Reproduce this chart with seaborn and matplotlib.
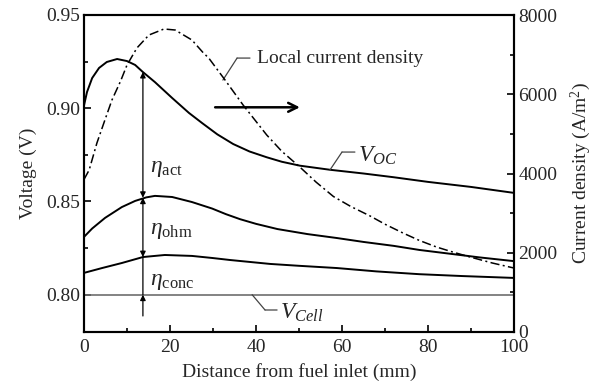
import matplotlib
matplotlib.use("Agg")
import matplotlib.pyplot as plt
import seaborn as sns
import pandas as pd
from matplotlib.ticker import MultipleLocator

# ---- data ----
voc_x = [0, 0.7, 1.9, 3.5, 5.3, 7.7, 10, 11.9, 13.7, 16.5, 20.5, 24.4, 27.5, 31, 34.7, 38.5, 42.5,
         46, 50.2, 57.2, 65, 72, 80, 90, 100]
voc_v = [0.9015, 0.9087, 0.9162, 0.9216, 0.9248, 0.9264, 0.9253, 0.9232, 0.9194, 0.914, 0.9055,
         0.8975, 0.8920, 0.8860, 0.8808, 0.8768, 0.8737, 0.8713, 0.8692, 0.8670, 0.8650, 0.8630,
         0.8605, 0.8578, 0.8546]

ohm_x = [0, 1.9, 4.9, 8.8, 11.9, 14.5, 16.5, 20.5, 25.1, 29.8, 33, 36.3, 40, 45, 52, 58.8, 65, 72,
         78, 85, 92, 100]
ohm_v = [0.831, 0.8355, 0.8412, 0.8470, 0.8503, 0.8522, 0.853, 0.8524, 0.8497, 0.8462, 0.8432,
         0.8405, 0.8380, 0.8352, 0.8325, 0.8304, 0.8283, 0.8262, 0.824, 0.822, 0.820, 0.818]

conc_x = [0, 4.2, 8.8, 13.7, 18.8, 25.1, 29.8, 34, 43.3, 50, 58.8, 68, 78, 88, 100]
conc_v = [0.8117, 0.8143, 0.817, 0.8202, 0.8213, 0.8208, 0.8197, 0.8186, 0.8165, 0.8155, 0.8143,
          0.8125, 0.811, 0.810, 0.809]

cell_x = [0, 100]
cell_v = [0.80, 0.80]

cur_x = [0, 1.2, 3, 4.7, 6.5, 8.5, 10, 12.3, 15.1, 18.6, 21.2, 25.1, 27.7, 29, 32.8, 37, 42.5,
         46, 50.2, 54, 58, 62, 66.5, 70, 74.2, 78, 82, 86, 89.8, 95, 100]
cur_i = [3850, 4088, 4769, 5300, 5855, 6330, 6738, 7167, 7495, 7647, 7621, 7369, 7050, 6915, 6360,
         5728, 4971, 4560, 4163, 3780, 3420, 3170, 2930, 2720, 2497, 2310, 2144, 2010, 1892, 1740,
         1614]

x_ticks = [0, 20, 40, 60, 80, 100]
v_ticks = [0.80, 0.85, 0.90, 0.95]
i_ticks = [0, 2000, 4000, 6000, 8000]

# ---- style ----
sns.set_style("ticks")
plt.rcParams['font.family'] = ['Liberation Serif', 'DejaVu Serif']
plt.rcParams['mathtext.fontset'] = 'custom'
plt.rcParams['mathtext.rm'] = 'Liberation Serif'
plt.rcParams['mathtext.it'] = 'Liberation Serif:italic'
plt.rcParams['mathtext.bf'] = 'Liberation Serif:bold'

fig = plt.figure(figsize=(6.03, 3.89), dpi=100)
ax = fig.add_axes([84/603, 1-332/389, (514-84)/603, (332-15)/389])
ax2 = ax.twinx()

lw = 1.4
for xs, ys in ((voc_x, voc_v), (ohm_x, ohm_v), (conc_x, conc_v)):
    sns.lineplot(x=xs, y=ys, ax=ax, color='black', lw=lw, estimator=None, sort=False)
sns.lineplot(x=cell_x, y=cell_v, ax=ax, color='#6e6e6e', lw=1.2, estimator=None, sort=False)
sns.lineplot(x=cur_x, y=cur_i, ax=ax2, color='black', lw=1.1, estimator=None, sort=False)
ax2.get_lines()[0].set_dashes([6, 2.2, 1.3, 2.2])
for ln in ax.get_lines() + ax2.get_lines():
    ln.set_solid_joinstyle('round')
    ln.set_dash_joinstyle('round')

ax.set_xlim(0, 100)
ax.set_ylim(0.78, 0.95)
ax2.set_ylim(0, 8000)
ax.set_xticks(x_ticks)
ax.set_yticks(v_ticks)
ax2.set_yticks(i_ticks)
ax.set_yticklabels([f"{v:.2f}" for v in v_ticks])
ax.xaxis.set_minor_locator(MultipleLocator(10))
ax.yaxis.set_minor_locator(MultipleLocator(0.025))
ax2.yaxis.set_minor_locator(MultipleLocator(1000))

fs = 14
for a in (ax, ax2):
    a.tick_params(which='both', direction='in', labelsize=fs, width=1.2, color='black')
    a.tick_params(which='major', length=5)
    a.tick_params(which='minor', length=3)
    for s in a.spines.values():
        s.set_linewidth(1.5)
        s.set_color('black')
ax.tick_params(axis='x', which='both', top=False)
ax.tick_params(axis='y', which='both', right=False, pad=3)
ax2.tick_params(axis='y', which='both', pad=3)
ax.tick_params(axis='x', pad=5)

ax.set_xlabel("Distance from fuel inlet (mm)", fontsize=fs, labelpad=5)
ax.set_ylabel("Voltage (V)", fontsize=fs, labelpad=6)
ax2.set_ylabel("Current density (A/m$^2$)", fontsize=fs, labelpad=8)

# ---- annotations ----
xa = 13.7
akw = dict(color='black', lw=0.9, mutation_scale=8, shrinkA=0, shrinkB=0)
ax.annotate('', xy=(xa, 0.9194), xytext=(xa, 0.852), arrowprops=dict(arrowstyle='<|-|>', **akw))
ax.annotate('', xy=(xa, 0.852), xytext=(xa, 0.8202), arrowprops=dict(arrowstyle='<|-|>', **akw))
ax.annotate('', xy=(xa, 0.8202), xytext=(xa, 0.80),
            arrowprops=dict(arrowstyle='-', color='black', lw=0.9, shrinkA=0, shrinkB=0))
ax.annotate('', xy=(xa, 0.80), xytext=(xa, 0.7886), arrowprops=dict(arrowstyle='-|>', **akw))

efs = 17
ax.text(15.3, 0.8675, r"$\eta_{\rm act}$", fontsize=efs, va='center', ha='left')
ax.text(15.3, 0.8345, r"$\eta_{\rm ohm}$", fontsize=efs, va='center', ha='left')
ax.text(15.3, 0.8070, r"$\eta_{\rm conc}$", fontsize=efs, va='center', ha='left')

# right arrow
ax.annotate('', xy=(50.2, 0.9005), xytext=(30.5, 0.9005),
            arrowprops=dict(arrowstyle='->', color='black', lw=1.8, mutation_scale=16, shrinkA=0, shrinkB=0))

def leader(pts):
    for (x0, y0), (x1, y1) in zip(pts[:-1], pts[1:]):
        ax.annotate('', xy=(x1, y1), xytext=(x0, y0),
                    arrowprops=dict(arrowstyle='-', color='#444444', lw=0.9, shrinkA=0, shrinkB=0))

leader([(32.3, 0.9151), (35.6, 0.9269), (38.6, 0.9269)])
ax.text(40.2, 0.9269, "Local current density", fontsize=14, va='center', ha='left')

leader([(57.2, 0.8669), (60.0, 0.8765), (63.0, 0.8765)])
ax.text(63.8, 0.8745, r"$V_{OC}$", fontsize=17, va='center', ha='left')

leader([(39.1, 0.80), (42.1, 0.7918), (44.9, 0.7918)])
ax.text(45.6, 0.7905, r"$V_{Cell}$", fontsize=17, va='center', ha='left')

fig.savefig("out.png", dpi=100)
